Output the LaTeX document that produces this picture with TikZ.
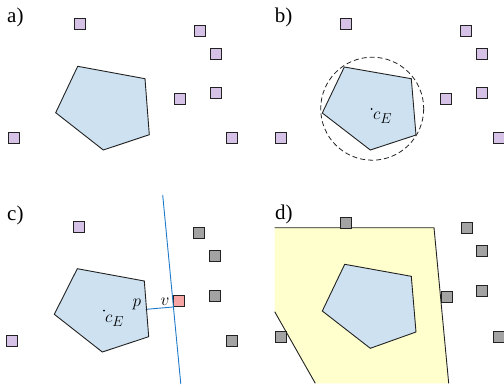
\documentclass[tikz,border=0pt]{standalone}
\usepackage{fontspec}
\setmainfont{Liberation Serif}
\definecolor{sitefill}{RGB}{213,194,230}
\definecolor{donefill}{RGB}{163,163,163}
\definecolor{nearfill}{RGB}{246,164,164}
\definecolor{shapefill}{RGB}{205,225,241}
\definecolor{regionfill}{RGB}{255,255,206}
\definecolor{cutline}{RGB}{30,122,200}
\definecolor{edgecol}{RGB}{34,34,34}
\tikzset{
  site/.style={rectangle, draw=edgecol, line width=1pt, minimum size=11pt, inner sep=0pt},
  purple site/.style={site, fill=sitefill},
  gray site/.style={site, fill=donefill},
  red site/.style={site, fill=nearfill},
  hull/.style={draw=edgecol, fill=shapefill, line width=0.9pt, line join=miter},
  panel label/.style={anchor=base west, inner sep=0pt, font=\fontsize{21}{24}\selectfont},
  math label/.style={anchor=base west, inner sep=0pt, font=\fontsize{19}{22}\selectfont},
  centre dot/.style={fill=black, draw=none, circle, minimum size=2pt, inner sep=0pt}
}
\begin{document}
\begin{tikzpicture}[x=1pt,y=-1pt]
\useasboundingbox (0,0) rectangle (504,391);

% ---------- a) ----------
\node[panel label] (la) at (7,22.5) {a)};
\draw[hull] (77.7,66.3) -- (145,78.7) -- (149.3,134.7) -- (103.3,150) -- (55.7,112.7) -- cycle;
\node[purple site] (a1) at (80,24.3) {};
\node[purple site] (a2) at (200,31) {};
\node[purple site] (a3) at (215.7,53.7) {};
\node[purple site] (a4) at (215.7,93.3) {};
\node[purple site] (a5) at (180,98.7) {};
\node[purple site] (a6) at (232.3,138.3) {};
\node[purple site] (a7) at (13.7,138.3) {};

% ---------- b) ----------
\node[panel label] (lb) at (274.7,22.5) {b)};
\draw[hull] (344.3,67) -- (411.3,78.7) -- (416,135) -- (370.3,150) -- (322.3,113) -- cycle;
\draw[edgecol, line width=0.8pt, dash pattern=on 5pt off 3pt] (372.2,108.7) circle[radius=51.5];
\node[centre dot] (cb) at (371.7,109) {};
\node[math label] (cbl) at (372.8,119.5) {$c_E$};
\node[purple site] (b1) at (346.3,24.3) {};
\node[purple site] (b2) at (466.3,31) {};
\node[purple site] (b3) at (482,53.7) {};
\node[purple site] (b4) at (482,93.3) {};
\node[purple site] (b5) at (446.3,98.7) {};
\node[purple site] (b6) at (499.2,138.3) {};
\node[purple site] (b7) at (280.7,138.3) {};

% ---------- c) ----------
\node[panel label] (lc) at (7,220) {c)};
\draw[hull] (77.3,268.7) -- (144.3,281) -- (148.7,336.7) -- (102.3,352) -- (54.3,314.3) -- cycle;
\node[centre dot] (cc) at (104,310.7) {};
\node[math label] (ccl) at (104.8,322.7) {$c_E$};
\node[purple site] (c1) at (79,227) {};
\node[gray site] (c2) at (199.3,233.3) {};
\node[gray site] (c3) at (215,256) {};
\node[gray site] (c4) at (215,295.7) {};
\node[red site] (cv) at (178.8,301) {};
\node[gray site] (c6) at (231.7,341) {};
\node[purple site] (c7) at (12.3,340.7) {};
\coordinate (p) at (146.5,309.3);
\coordinate (top) at (162.7,195);
\coordinate (bot) at (180.8,384);
\draw[cutline, line width=0.9pt] (top) -- (bot);
\draw[cutline, line width=0.9pt] (p) -- (cv.south west);
\fill[edgecol] (p) circle[radius=0.9pt];
\node[math label] (pl) at (132.5,306.5) {$p$};
\node[math label] (vl) at (160.5,305) {$v$};

% ---------- d) ----------
\node[panel label] (ld) at (275,219) {d)};
\fill[regionfill] (274.7,227.7) -- (434,227.7) -- (448.7,383.3) -- (315.3,383.3) -- (274.7,311.7) -- cycle;
\draw[edgecol, line width=0.9pt] (274.7,227.7) -- (434,227.7) -- (448.7,383.3);
\draw[edgecol, line width=0.9pt] (315.3,383.3) -- (274.7,311.7);
\draw[hull] (344.7,264.3) -- (411.3,276.3) -- (416,332) -- (370.3,348.3) -- (322.3,311) -- cycle;
\node[gray site] (d1) at (346.3,222.7) {};
\node[gray site] (d2) at (467,228.3) {};
\node[gray site] (d3) at (482,251) {};
\node[gray site] (d4) at (482,291) {};
\node[gray site] (d5) at (446.7,296.7) {};
\node[gray site] (d6) at (499.2,336.7) {};
\node[gray site] (d7) at (280.7,337.3) {};
\end{tikzpicture}
\end{document}
